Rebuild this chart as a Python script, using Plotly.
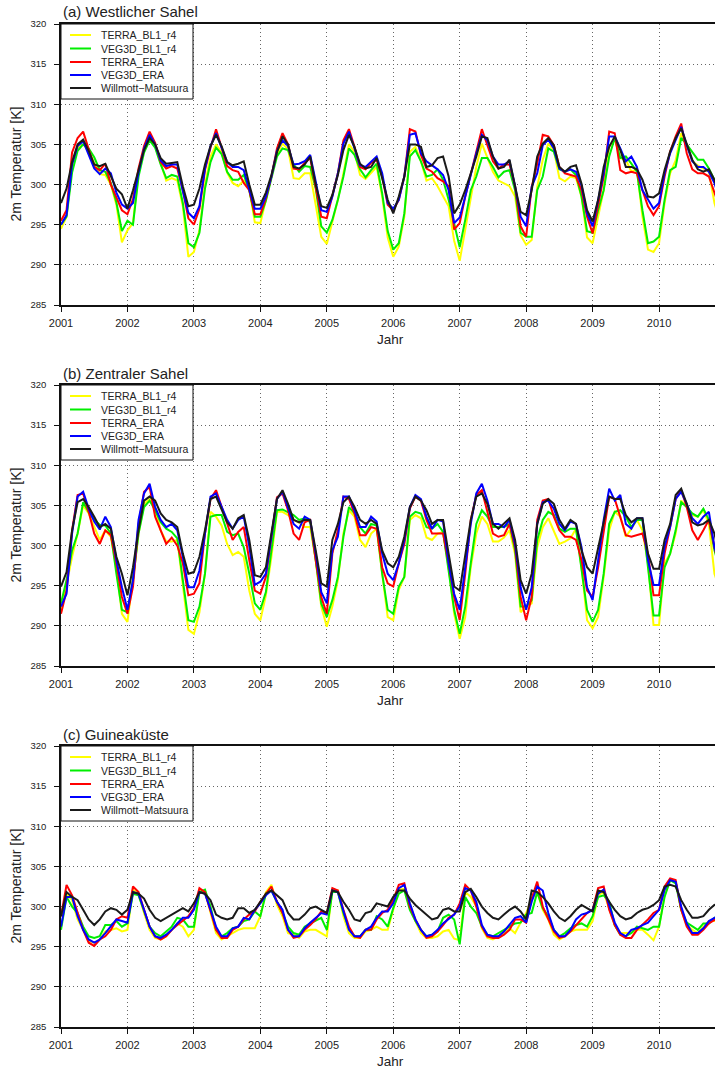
import plotly.graph_objects as go

# ---------------------------------------------------------------------------
# Monthly 2 m temperature [K], Jan 2001 - Dec 2010 (one row per year)
# ---------------------------------------------------------------------------
years = list(range(2001, 2011))
month_index = list(range(12))
year_ticks = [str(y) for y in years]
temp_ticks = [285, 290, 295, 300, 305, 310, 315, 320]

series_names = ["TERRA_BL1_r4", "VEG3D_BL1_r4", "TERRA_ERA", "VEG3D_ERA", "Willmott\u2212Matsuura"]
series_colors = ["#ffff00", "#00ee00", "#ff0000", "#0000ff", "#1a1a1a"]

# (a) Westlicher Sahel
west_terra_bl1 = [
    294.5, 296.0, 302.5, 304.6, 305.0, 304.3, 302.7, 301.3, 301.2, 300.0, 297.5, 292.8,
    294.3, 295.2, 301.5, 304.2, 305.8, 304.8, 302.7, 300.5, 300.8, 300.5, 297.3, 291.0,
    291.6, 294.3, 300.0, 303.5, 305.0, 304.0, 301.5, 300.2, 299.8, 300.5, 299.5, 295.3,
    295.2, 298.3, 301.0, 303.8, 305.1, 304.4, 300.8, 300.7, 301.4, 301.4, 297.7, 293.5,
    292.6, 295.2, 298.1, 301.4, 305.0, 304.1, 301.2, 300.7, 301.4, 302.2, 298.5, 293.4,
    291.0, 292.3, 296.0, 304.1, 304.7, 302.9, 300.5, 300.8, 299.8, 298.5, 297.3, 293.0,
    290.5, 294.4, 298.5, 302.2, 305.1, 303.3, 301.6, 300.5, 300.1, 299.8, 298.5, 293.7,
    292.5, 293.1, 299.7, 303.1, 305.1, 304.3, 300.8, 300.4, 301.0, 300.8, 298.5, 293.4,
    292.7, 296.0, 299.3, 304.7, 305.6, 303.3, 303.1, 301.6, 301.9, 296.0, 291.9, 291.6,
    292.7, 297.7, 301.4, 303.0, 306.4, 305.0, 302.9, 302.4, 302.0, 301.6, 297.7, 295.5,
]
west_veg3d_bl1 = [
    295.0, 296.0, 301.5, 304.2, 305.0, 304.5, 303.4, 301.8, 301.6, 300.2, 297.8, 294.2,
    295.5, 295.0, 301.0, 304.0, 305.5, 304.6, 302.5, 300.8, 301.2, 301.0, 297.7, 292.7,
    292.2, 294.0, 299.5, 302.8, 304.6, 303.8, 301.6, 300.6, 300.6, 301.2, 299.3, 296.0,
    296.0, 298.0, 300.8, 303.5, 304.5, 304.3, 302.5, 301.6, 302.3, 302.2, 299.5, 294.8,
    294.0, 295.6, 298.1, 301.0, 304.5, 303.7, 301.9, 300.9, 301.8, 302.6, 298.9, 294.2,
    291.9, 292.7, 296.4, 303.5, 304.3, 302.9, 301.0, 301.2, 301.9, 300.6, 298.1, 295.2,
    292.2, 295.6, 299.3, 301.0, 303.3, 303.3, 302.2, 300.9, 301.6, 301.8, 299.3, 294.0,
    293.5, 293.5, 299.3, 301.0, 304.5, 304.1, 301.9, 301.6, 301.9, 301.2, 298.5, 294.2,
    294.0, 296.8, 299.3, 303.5, 305.8, 303.3, 303.5, 302.6, 301.6, 296.8, 292.7, 292.9,
    293.5, 298.1, 301.8, 302.2, 305.8, 305.0, 304.1, 303.1, 303.1, 302.0, 300.6, 298.0,
]
west_terra_era = [
    295.5, 296.8, 304.0, 305.8, 306.6, 304.5, 302.2, 301.8, 302.6, 300.0, 298.5, 296.8,
    296.3, 298.2, 302.0, 304.8, 306.6, 305.2, 302.8, 302.0, 302.3, 302.0, 299.3, 295.8,
    295.0, 297.0, 301.8, 304.6, 306.9, 304.5, 302.3, 301.8, 301.6, 300.2, 299.3, 296.3,
    296.3, 298.3, 301.0, 304.5, 306.4, 305.0, 302.0, 301.9, 302.7, 303.3, 299.8, 296.0,
    295.8, 298.5, 301.4, 305.5, 306.9, 304.7, 302.2, 301.9, 302.7, 303.1, 301.0, 297.5,
    296.8, 298.1, 301.0, 306.9, 306.6, 303.7, 302.0, 301.6, 300.8, 300.4, 299.8, 294.4,
    295.2, 298.5, 301.4, 304.3, 306.9, 304.9, 302.9, 302.0, 302.5, 302.5, 299.8, 294.8,
    293.5, 299.7, 302.6, 306.2, 306.0, 304.9, 302.2, 301.4, 301.2, 301.0, 299.3, 296.0,
    293.9, 297.7, 301.0, 306.6, 306.4, 301.8, 301.4, 301.6, 301.4, 299.3, 297.3, 296.2,
    297.3, 301.0, 304.1, 306.0, 307.6, 303.9, 301.9, 301.4, 301.4, 301.0, 299.0, 297.0,
]
west_veg3d_era = [
    295.0, 296.2, 302.5, 304.8, 305.4, 303.8, 302.0, 301.3, 302.0, 301.4, 299.0, 297.5,
    297.0, 297.7, 301.5, 304.5, 306.2, 305.0, 303.0, 302.3, 302.5, 302.5, 299.2, 296.5,
    295.8, 297.3, 302.0, 304.8, 306.4, 304.6, 302.8, 302.2, 302.2, 301.8, 299.3, 297.0,
    297.0, 298.5, 301.0, 304.2, 305.5, 304.8, 302.5, 302.6, 302.9, 303.7, 300.4, 296.8,
    296.6, 298.5, 301.4, 305.1, 306.6, 304.5, 302.4, 302.2, 302.9, 303.5, 301.4, 297.7,
    297.0, 298.1, 301.0, 306.2, 306.4, 303.9, 302.9, 302.4, 301.9, 301.2, 299.3, 295.2,
    295.9, 298.5, 301.4, 303.9, 306.2, 305.5, 303.5, 302.5, 302.5, 302.9, 299.8, 296.0,
    294.8, 299.7, 301.4, 304.9, 305.6, 304.5, 302.0, 301.6, 301.9, 301.6, 299.9, 296.4,
    294.8, 298.1, 301.4, 306.0, 306.0, 304.5, 302.9, 303.5, 302.2, 299.3, 298.1, 297.0,
    297.7, 301.4, 303.9, 305.6, 307.2, 304.9, 302.9, 302.2, 302.2, 301.6, 300.2, 298.0,
]
west_willmott = [
    297.7, 299.5, 302.8, 305.0, 305.6, 304.2, 302.5, 302.3, 302.6, 301.0, 299.5, 298.8,
    297.0, 299.3, 301.8, 304.3, 305.8, 305.0, 303.3, 302.6, 302.7, 302.8, 299.8, 297.3,
    297.5, 299.5, 302.5, 304.8, 306.2, 304.8, 302.8, 302.4, 302.6, 302.9, 300.0, 297.5,
    297.5, 299.0, 301.2, 304.0, 306.0, 305.0, 302.2, 302.0, 302.5, 303.5, 300.0, 297.3,
    297.1, 298.7, 301.2, 304.3, 306.2, 304.7, 302.6, 302.0, 302.2, 303.3, 300.8, 298.1,
    296.4, 298.5, 301.0, 305.0, 305.0, 304.7, 302.2, 302.4, 303.3, 303.5, 301.0, 296.4,
    297.5, 299.3, 301.4, 303.5, 306.0, 305.8, 303.5, 302.0, 302.2, 303.1, 299.8, 296.6,
    296.2, 299.3, 303.5, 305.1, 305.8, 304.9, 302.2, 301.6, 302.2, 302.4, 300.1, 296.8,
    295.4, 298.1, 302.2, 304.7, 306.0, 304.3, 302.2, 302.2, 301.9, 300.6, 298.5, 298.4,
    298.9, 301.8, 304.1, 305.8, 307.0, 305.1, 303.1, 301.9, 301.6, 301.9, 300.6, 298.5,
]

# (b) Zentraler Sahel
central_terra_bl1 = [
    291.7, 295.3, 298.6, 301.5, 305.0, 304.0, 302.3, 300.7, 301.9, 301.1, 297.3, 291.5,
    290.5, 295.7, 301.5, 305.2, 305.8, 304.6, 301.9, 300.5, 300.5, 300.7, 294.9, 289.5,
    289.0, 291.7, 296.5, 304.2, 303.6, 302.5, 300.2, 298.8, 299.2, 298.6, 294.4, 291.5,
    290.7, 293.8, 298.6, 304.2, 304.2, 303.8, 303.2, 302.9, 302.3, 302.3, 298.2, 292.4,
    289.9, 292.4, 295.7, 301.5, 304.4, 303.6, 300.7, 299.8, 301.5, 302.1, 296.5, 291.1,
    290.7, 294.5, 296.1, 303.2, 303.8, 303.4, 301.0, 300.7, 301.5, 301.7, 297.3, 291.5,
    288.4, 291.1, 297.3, 301.5, 303.6, 302.7, 300.5, 300.5, 301.0, 301.9, 298.9, 291.7,
    292.4, 292.8, 299.8, 302.3, 303.4, 301.9, 300.2, 300.5, 300.9, 302.1, 297.3, 290.7,
    289.7, 291.1, 296.1, 301.9, 304.2, 303.6, 301.1, 302.1, 303.2, 301.9, 297.8, 290.1,
    290.1, 297.8, 299.0, 301.5, 305.6, 304.8, 303.8, 303.6, 304.4, 302.7, 296.5, 294.5,
]
central_veg3d_bl1 = [
    292.8, 295.7, 299.4, 301.5, 305.4, 304.2, 303.2, 302.6, 302.5, 301.5, 296.5, 292.0,
    291.7, 295.7, 301.5, 304.8, 305.6, 304.4, 302.9, 302.1, 301.7, 300.9, 295.7, 290.7,
    290.5, 292.4, 296.5, 303.6, 303.8, 303.8, 301.7, 301.3, 301.5, 299.8, 296.5, 292.8,
    292.0, 294.2, 299.4, 304.4, 304.5, 304.2, 303.8, 303.2, 303.4, 302.9, 298.2, 292.8,
    291.1, 293.2, 296.1, 301.1, 304.8, 304.0, 302.3, 301.5, 302.7, 302.5, 296.5, 292.0,
    291.5, 294.9, 296.1, 303.6, 304.2, 304.0, 302.3, 302.1, 302.7, 301.7, 296.9, 292.0,
    289.0, 292.4, 297.8, 302.7, 304.4, 303.6, 302.3, 302.3, 302.3, 302.7, 299.4, 292.4,
    292.4, 293.2, 300.7, 303.2, 304.2, 303.8, 302.1, 301.7, 302.1, 302.1, 297.3, 292.0,
    290.5, 292.0, 296.5, 302.7, 304.2, 304.4, 303.6, 302.3, 303.2, 303.2, 297.3, 291.3,
    291.3, 297.3, 299.0, 301.9, 305.4, 304.8, 304.0, 303.6, 304.6, 303.2, 299.4, 297.0,
]
central_terra_era = [
    291.5, 294.4, 301.9, 306.3, 306.5, 304.2, 301.5, 300.2, 301.9, 301.3, 297.8, 293.6,
    291.5, 294.9, 302.7, 306.7, 307.3, 303.6, 301.9, 300.2, 301.0, 300.0, 297.8, 293.8,
    294.0, 295.3, 301.5, 305.8, 306.9, 304.8, 302.7, 300.7, 301.7, 302.3, 298.2, 294.4,
    294.0, 296.1, 301.1, 306.0, 306.5, 304.4, 301.5, 300.7, 302.9, 303.2, 298.2, 293.6,
    291.5, 299.0, 301.9, 306.1, 305.8, 304.0, 301.3, 301.3, 302.3, 302.1, 297.3, 295.3,
    294.9, 297.8, 300.2, 304.6, 306.1, 305.6, 303.2, 301.5, 301.5, 301.5, 297.8, 293.6,
    290.7, 296.5, 303.2, 306.3, 306.9, 304.0, 301.5, 301.1, 301.3, 302.7, 299.8, 293.6,
    290.7, 293.6, 303.2, 305.6, 305.8, 303.6, 301.9, 301.1, 301.1, 300.7, 298.2, 294.4,
    293.6, 297.3, 301.5, 306.1, 305.8, 303.6, 301.3, 301.1, 301.3, 301.5, 299.0, 293.8,
    293.8, 299.0, 302.3, 305.8, 306.9, 304.8, 301.9, 300.7, 301.9, 303.2, 299.8, 297.0,
]
central_veg3d_era = [
    292.4, 294.0, 301.5, 306.1, 306.7, 304.6, 303.0, 302.0, 303.6, 302.3, 298.2, 294.8,
    292.0, 295.7, 303.2, 306.5, 307.7, 304.8, 303.2, 302.3, 302.7, 301.9, 298.6, 294.8,
    294.8, 296.9, 301.5, 306.1, 306.5, 304.8, 303.2, 302.1, 303.2, 303.6, 299.9, 295.1,
    295.5, 296.5, 301.1, 305.8, 306.7, 304.8, 302.7, 302.1, 303.6, 303.2, 299.0, 294.2,
    292.8, 299.4, 301.1, 306.1, 306.1, 304.4, 302.3, 302.3, 303.6, 303.0, 299.0, 296.5,
    295.7, 297.8, 300.7, 304.8, 306.3, 305.8, 303.6, 302.1, 303.2, 303.0, 297.8, 294.0,
    292.0, 297.3, 302.7, 306.5, 307.7, 305.6, 302.7, 302.7, 302.3, 303.2, 300.2, 294.8,
    292.0, 294.8, 302.7, 305.4, 305.6, 304.6, 302.7, 301.9, 303.0, 302.7, 299.8, 294.8,
    293.2, 298.2, 303.2, 307.1, 305.6, 306.3, 302.7, 302.1, 303.4, 303.4, 298.2, 295.1,
    295.1, 299.9, 302.3, 305.8, 306.7, 305.2, 303.4, 302.7, 303.6, 304.2, 299.8, 297.5,
]
central_willmott = [
    294.9, 296.7, 301.9, 305.4, 305.8, 304.8, 303.6, 302.3, 302.7, 302.1, 298.6, 296.5,
    293.8, 297.3, 301.9, 305.6, 306.1, 305.6, 304.0, 303.2, 302.9, 302.3, 299.0, 296.5,
    296.7, 298.6, 301.9, 305.8, 306.1, 304.6, 302.9, 302.1, 303.4, 303.8, 300.7, 296.3,
    296.1, 297.3, 301.5, 305.8, 306.9, 305.2, 303.2, 302.9, 303.2, 303.2, 299.4, 295.3,
    294.9, 300.7, 302.7, 305.4, 306.1, 304.8, 303.2, 302.7, 303.2, 302.7, 299.4, 297.8,
    297.3, 298.6, 301.1, 304.8, 306.1, 305.6, 304.4, 302.7, 303.2, 303.2, 299.0, 294.9,
    294.4, 299.0, 303.2, 306.1, 306.5, 305.2, 302.7, 302.1, 302.7, 303.4, 300.7, 295.7,
    294.0, 296.5, 302.7, 305.2, 305.8, 305.2, 303.2, 302.1, 303.2, 302.7, 299.4, 297.3,
    296.5, 299.8, 302.7, 306.1, 305.8, 305.8, 303.8, 302.9, 303.4, 303.4, 299.0, 297.1,
    297.1, 300.7, 302.7, 306.3, 307.1, 305.2, 302.9, 302.5, 302.7, 303.2, 301.5, 298.5,
]

# (c) Guineaküste
guinea_terra_bl1 = [
    298.8, 301.6, 300.8, 298.4, 297.1, 295.7, 295.5, 295.9, 296.9, 297.1, 297.3, 296.9,
    297.1, 302.1, 301.6, 299.2, 297.1, 296.1, 295.9, 296.3, 297.1, 297.9, 297.5, 296.3,
    297.1, 302.1, 301.8, 299.2, 296.7, 295.9, 296.3, 296.7, 297.1, 297.3, 297.3, 297.3,
    298.8, 301.8, 302.7, 300.2, 298.8, 296.7, 296.5, 296.1, 296.9, 297.1, 297.1, 296.7,
    296.3, 302.1, 302.0, 298.8, 296.7, 296.1, 296.1, 296.9, 297.1, 297.5, 297.1, 297.1,
    299.6, 302.1, 302.2, 300.4, 298.2, 296.7, 296.1, 296.1, 296.3, 296.9, 297.1, 296.0,
    295.8, 301.8, 301.2, 300.0, 297.3, 296.1, 295.9, 296.3, 296.7, 297.3, 296.7, 298.0,
    299.2, 301.0, 301.8, 299.6, 298.4, 296.5, 295.9, 296.3, 296.9, 297.1, 297.1, 297.1,
    298.2, 301.4, 301.8, 299.8, 297.7, 296.7, 296.7, 296.7, 297.1, 297.1, 296.5, 295.8,
    297.5, 301.4, 303.3, 303.1, 299.6, 297.7, 297.1, 296.7, 297.5, 298.2, 298.2, 298.5,
]
guinea_veg3d_bl1 = [
    297.1, 301.2, 300.0, 299.2, 297.5, 296.3, 296.1, 296.3, 297.7, 297.7, 298.2, 297.5,
    297.9, 301.6, 301.4, 299.4, 297.5, 296.7, 296.3, 296.9, 297.5, 298.6, 298.4, 297.5,
    297.5, 301.8, 302.1, 300.0, 297.1, 296.3, 296.7, 297.3, 297.5, 298.2, 298.4, 299.4,
    298.8, 301.6, 302.0, 300.6, 299.2, 297.5, 296.7, 296.5, 297.5, 297.9, 298.2, 298.6,
    297.1, 301.8, 301.8, 299.2, 297.3, 296.3, 296.3, 297.1, 297.1, 298.8, 298.4, 297.5,
    299.8, 301.6, 302.0, 299.6, 298.2, 297.1, 296.3, 296.5, 296.9, 298.6, 299.0, 298.4,
    295.3, 301.2, 300.0, 299.2, 297.5, 296.5, 296.3, 296.7, 297.1, 297.5, 297.9, 298.0,
    299.0, 299.2, 301.8, 299.8, 298.8, 297.1, 296.3, 296.7, 297.3, 297.7, 297.9, 297.5,
    298.8, 301.2, 301.4, 300.6, 297.7, 296.5, 296.3, 296.7, 297.5, 297.3, 297.1, 297.5,
    297.5, 301.2, 303.3, 302.9, 299.6, 298.0, 297.5, 297.1, 297.9, 297.9, 298.6, 298.8,
]
guinea_terra_era = [
    298.8, 302.7, 301.4, 299.2, 297.1, 295.5, 295.1, 295.9, 296.3, 297.1, 298.4, 298.8,
    298.6, 302.5, 301.8, 299.6, 297.5, 296.3, 295.9, 296.3, 297.1, 297.7, 298.2, 298.8,
    299.8, 302.3, 301.8, 299.6, 297.1, 296.1, 296.1, 297.1, 297.5, 298.4, 299.0, 299.4,
    300.6, 301.6, 302.5, 300.6, 299.2, 297.1, 296.1, 296.3, 297.1, 297.7, 298.4, 299.4,
    299.2, 302.3, 302.0, 299.6, 297.5, 296.3, 296.1, 297.1, 297.1, 298.4, 299.2, 299.6,
    300.8, 302.7, 302.9, 300.0, 298.4, 297.1, 296.1, 296.3, 296.9, 297.7, 298.6, 299.0,
    300.4, 302.7, 302.0, 300.0, 297.5, 296.3, 296.1, 296.1, 296.5, 297.1, 298.4, 298.4,
    298.0, 301.0, 303.1, 300.0, 298.4, 296.9, 296.1, 296.3, 296.9, 297.7, 298.4, 299.2,
    299.6, 302.3, 302.5, 299.6, 297.7, 296.5, 296.1, 296.1, 297.1, 297.7, 298.4, 299.2,
    299.6, 302.5, 303.5, 303.3, 299.6, 297.5, 296.5, 296.5, 297.1, 297.9, 298.4, 298.8,
]
guinea_veg3d_era = [
    297.5, 301.2, 301.2, 298.8, 297.1, 295.9, 295.5, 295.9, 296.7, 297.5, 298.4, 298.2,
    298.0, 301.8, 301.6, 299.6, 297.5, 296.3, 296.1, 296.5, 297.1, 297.9, 298.6, 298.6,
    299.6, 301.8, 301.6, 299.6, 297.5, 296.3, 296.3, 297.3, 297.5, 298.6, 298.4, 299.6,
    300.4, 301.4, 302.0, 300.6, 299.6, 297.1, 296.3, 296.3, 297.3, 298.0, 298.6, 299.2,
    299.0, 302.0, 301.8, 299.4, 297.1, 296.3, 296.3, 297.1, 297.5, 298.6, 299.4, 299.4,
    300.4, 302.3, 302.7, 300.4, 298.4, 297.1, 296.3, 296.5, 297.1, 297.9, 298.4, 299.0,
    300.0, 302.3, 302.0, 300.6, 297.7, 296.5, 296.3, 296.3, 296.9, 297.7, 298.6, 298.8,
    298.0, 300.6, 302.5, 302.0, 299.2, 297.1, 296.3, 296.3, 297.1, 298.4, 299.0, 299.2,
    299.6, 301.6, 302.1, 300.2, 298.0, 296.7, 296.3, 297.1, 297.3, 297.7, 298.0, 298.8,
    299.6, 302.1, 303.3, 303.1, 300.0, 297.9, 296.7, 296.7, 297.3, 298.2, 298.6, 298.8,
]
guinea_willmott = [
    298.8, 301.8, 301.2, 300.8, 299.6, 298.4, 297.7, 298.4, 299.4, 299.8, 299.6, 299.0,
    299.6, 301.8, 301.6, 301.0, 299.6, 298.6, 298.2, 298.6, 299.0, 299.4, 299.8, 299.4,
    300.4, 301.8, 301.6, 300.8, 299.0, 298.6, 298.4, 298.6, 299.8, 299.8, 299.2, 299.6,
    300.6, 301.6, 302.0, 301.4, 300.8, 299.2, 298.4, 298.4, 299.0, 299.8, 300.0, 299.6,
    299.2, 302.0, 301.8, 300.6, 299.6, 298.4, 298.2, 299.2, 299.4, 300.4, 300.2, 300.0,
    301.2, 302.0, 302.0, 301.0, 300.2, 299.6, 299.0, 298.4, 298.6, 299.6, 299.8, 299.4,
    299.4, 301.8, 302.2, 301.2, 300.0, 299.2, 298.6, 298.4, 299.0, 299.6, 300.0, 299.4,
    298.4, 302.0, 301.8, 301.2, 300.4, 299.4, 298.6, 298.2, 298.8, 299.6, 300.2, 299.8,
    299.4, 302.0, 301.8, 300.6, 299.6, 298.8, 298.4, 298.6, 299.2, 299.6, 299.8, 300.2,
    300.8, 302.5, 302.7, 302.5, 300.8, 299.6, 298.6, 298.6, 298.8, 299.6, 300.2, 300.5,
]

panels = [
    [west_terra_bl1, west_veg3d_bl1, west_terra_era, west_veg3d_era, west_willmott],
    [central_terra_bl1, central_veg3d_bl1, central_terra_era, central_veg3d_era, central_willmott],
    [guinea_terra_bl1, guinea_veg3d_bl1, guinea_terra_era, guinea_veg3d_era, guinea_willmott],
]
panel_titles = ["(a) Westlicher Sahel", "(b) Zentraler Sahel", "(c) Guineak\u00fcste"]

# decimal-year time coordinate of each monthly value
time = [y + m / 12 for y in years for m in month_index]

# ---------------------------------------------------------------------------
# Layout geometry (pixels)
# ---------------------------------------------------------------------------
W, H = 715, 1069
ML, MR, MT, MB = 61, 0, 24, 42
plot_w = W - ML - MR
plot_h = H - MT - MB
panel_h = 281
panel_tops = [24, 385, 746]
FONT = "Liberation Sans, Arial, Helvetica, sans-serif"


def domain_for(top):
    bottom = top + panel_h
    return [(H - MB - bottom) / plot_h, (H - MB - top) / plot_h]


fig = go.Figure()

for p, series in enumerate(panels):
    ax = "" if p == 0 else str(p + 1)
    for name, color, values in zip(series_names, series_colors, series):
        fig.add_trace(go.Scatter(
            x=time, y=values, mode="lines", name=name,
            line=dict(color=color, width=2),
            xaxis="x" + ax, yaxis="y" + ax, showlegend=False,
            hovertemplate=name + ": %{y:.1f} K<extra></extra>",
        ))

axis_common = dict(
    showline=True, linecolor="#111111", linewidth=1.5,
    ticks="outside", ticklen=5, tickwidth=1, tickcolor="#111111",
    showgrid=True, gridcolor="#666666", gridwidth=1, griddash="1px,3px",
    zeroline=False,
)

layout = dict(
    width=W, height=H,
    margin=dict(l=ML, r=MR, t=MT, b=MB, pad=0),
    paper_bgcolor="white", plot_bgcolor="white",
    font=dict(family=FONT, color="#222222"),
    showlegend=False,
)

shapes = []
annotations = []
legend_rows = [11, 24.5, 38, 51, 64]

for p in range(3):
    ax = "" if p == 0 else str(p + 1)
    layout["xaxis" + ax] = dict(
        axis_common, domain=[0, 1], anchor="y" + ax,
        range=[2001, 2001 + plot_w / 66.45], tickvals=years, ticktext=year_ticks,
        tickfont=dict(size=11, family=FONT, color="#222222"),
        mirror=True, ticklabelstandoff=2,
    )
    layout["yaxis" + ax] = dict(
        axis_common, domain=domain_for(panel_tops[p]), anchor="x" + ax,
        range=[285, 320], tickvals=temp_ticks, ticktext=[str(v) for v in temp_ticks],
        tickfont=dict(size=9.5, family=FONT, color="#222222"),
        ticklabelstandoff=6,
    )
    xd, yd = "x" + ax + " domain", "y" + ax + " domain"

    # panel title, axis titles
    annotations.append(dict(text=panel_titles[p], xref=xd, yref=yd, x=0, y=1 + 12 / panel_h,
                            xanchor="left", yanchor="middle", showarrow=False,
                            font=dict(size=15, family=FONT, color="#222222")))
    annotations.append(dict(text="Jahr", xref=xd, yref=yd, x=(390 - ML) / plot_w, y=-34 / panel_h,
                            xanchor="center", yanchor="middle", showarrow=False,
                            font=dict(size=13.5, family=FONT, color="#222222")))
    annotations.append(dict(text="2m Temperatur [K]", xref=xd, yref=yd, x=(15 - ML) / plot_w, y=0.5,
                            xanchor="center", yanchor="middle", textangle=-90, showarrow=False,
                            font=dict(size=14, family=FONT, color="#222222")))

    # legend box
    shapes.append(dict(type="rect", xref=xd, yref=yd, x0=0, x1=(193 - ML) / plot_w,
                       y0=1 - 75 / panel_h, y1=1, fillcolor="white",
                       line=dict(color="#111111", width=1), layer="above"))
    for name, color, off in zip(series_names, series_colors, legend_rows):
        yy = 1 - off / panel_h
        shapes.append(dict(type="line", xref=xd, yref=yd, x0=(70 - ML) / plot_w, x1=(91 - ML) / plot_w,
                           y0=yy, y1=yy, line=dict(color=color, width=2), layer="above"))
        annotations.append(dict(text=name, xref=xd, yref=yd, x=(99 - ML) / plot_w, y=yy,
                                xanchor="left", yanchor="middle", showarrow=False,
                                font=dict(size=10.5, family=FONT, color="#222222")))

layout["shapes"] = shapes
layout["annotations"] = annotations
fig.update_layout(**layout)

fig.write_html("out.html")
